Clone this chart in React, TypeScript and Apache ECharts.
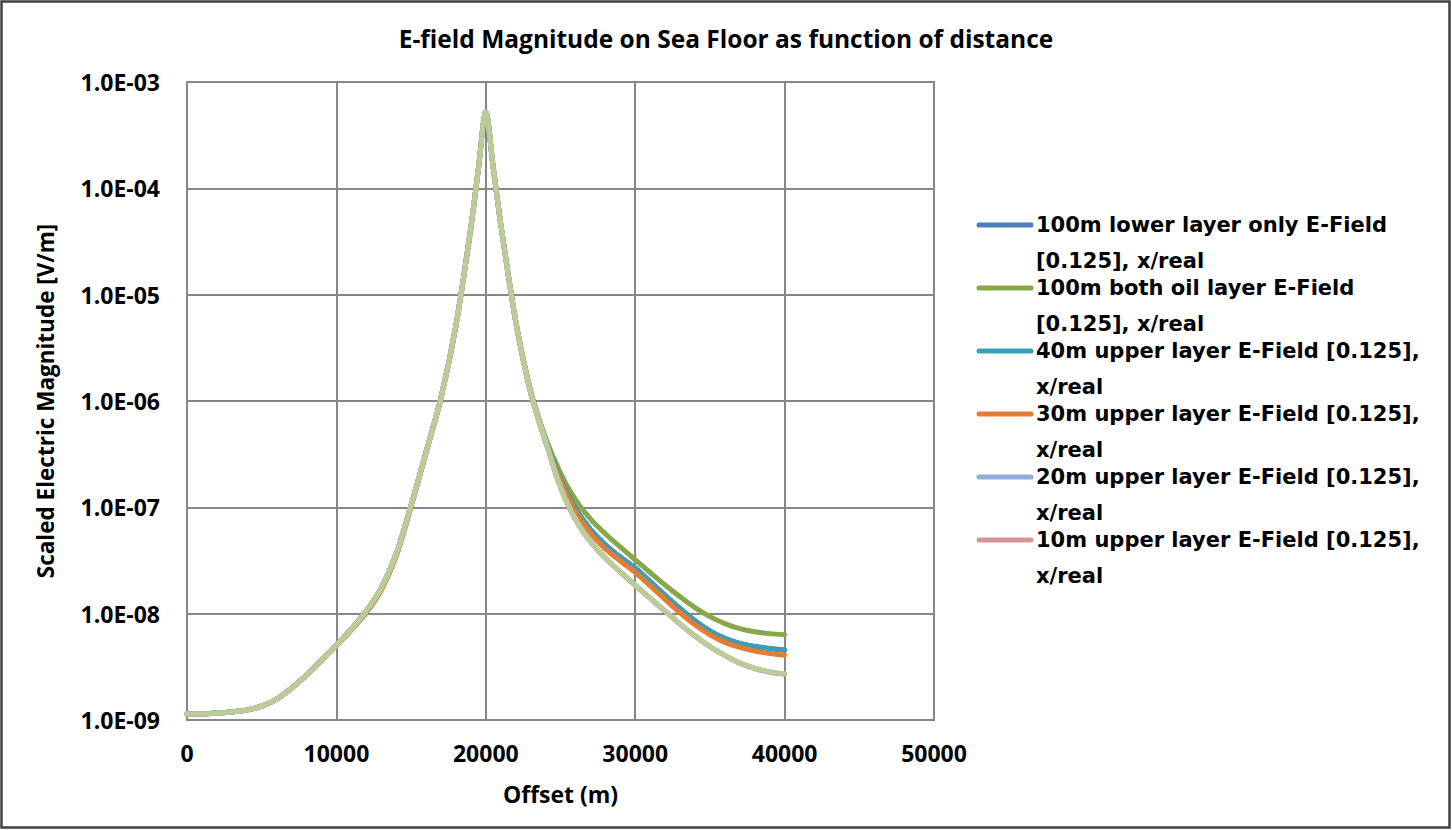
import React, { useEffect, useRef } from "react";
import * as echarts from "echarts";

const chartTitle = "E-field Magnitude on Sea Floor as function of distance";
const xAxisTitle = "Offset (m)";
const yAxisTitle = "Scaled Electric Magnitude [V/m]";
const xTicks = [0, 10000, 20000, 30000, 40000, 50000];

const offsets = [
  0, 1000, 2000, 3000, 4000, 5000, 6000, 7000, 8000, 9000, 10000, 11000, 12000,
  13000, 14000, 15000, 16000, 17000, 18000, 19000, 19500, 20000, 20500, 21000,
  22000, 23000, 24000, 25000, 26000, 27000, 28000, 29000, 30000, 31000, 32000,
  33000, 34000, 35000, 36000, 37000, 38000, 39000, 40000,
];

// values shared by all runs up to 22000 m
const common = [
  1.14e-9, 1.14e-9, 1.16e-9, 1.19e-9, 1.24e-9, 1.35e-9, 1.57e-9, 2.0e-9, 2.65e-9,
  3.66e-9, 5.07e-9, 7.17e-9, 1.06e-8, 1.74e-8, 3.63e-8, 1.05e-7, 3.31e-7, 1.07e-6,
  5.13e-6, 4.27e-5, 1.51e-4, 5.22e-4, 1.55e-4, 4.62e-5, 5.65e-6,
];

const lowerLayer100 = [
  ...common,
  1.25e-6, 4.4e-7, 1.87e-7, 9.84e-8, 6.21e-8, 4.45e-8, 3.41e-8, 2.69e-8, 2.0e-8,
  1.49e-8, 1.12e-8, 8.57e-9, 6.89e-9, 5.86e-9, 5.26e-9, 4.91e-9, 4.7e-9, 4.55e-9,
];
const bothOil100 = [
  ...common,
  1.22e-6, 4.49e-7, 2.1e-7, 1.18e-7, 7.8e-8, 5.65e-8, 4.24e-8, 3.21e-8, 2.44e-8,
  1.86e-8, 1.44e-8, 1.14e-8, 9.38e-9, 8.07e-9, 7.24e-9, 6.76e-9, 6.49e-9, 6.34e-9,
];
const upper40 = [
  ...common,
  1.21e-6, 4.3e-7, 1.87e-7, 9.84e-8, 6.21e-8, 4.45e-8, 3.41e-8, 2.69e-8, 2.0e-8,
  1.49e-8, 1.12e-8, 8.57e-9, 6.89e-9, 5.86e-9, 5.26e-9, 4.91e-9, 4.7e-9, 4.55e-9,
];
const upper30 = [
  1.14e-9, 1.14e-9, 1.16e-9, 1.19e-9, 1.24e-9, 1.35e-9, 1.57e-9, 2.0e-9, 2.63e-9,
  3.6e-9, 4.98e-9, 7.0e-9, 1.02e-8, 1.66e-8, 3.45e-8, 1.01e-7, 3.25e-7, 1.07e-6,
  5.13e-6, 4.27e-5, 1.51e-4, 5.22e-4, 1.55e-4, 4.62e-5, 5.65e-6,
  1.21e-6, 4.11e-7, 1.76e-7, 9.12e-8, 5.71e-8, 4.07e-8, 3.13e-8, 2.45e-8, 1.83e-8,
  1.36e-8, 1.02e-8, 7.85e-9, 6.31e-9, 5.37e-9, 4.81e-9, 4.45e-9, 4.23e-9, 4.08e-9,
];
const upper20 = [
  ...common,
  1.2e-6, 4.19e-7, 1.54e-7, 7.7e-8, 4.75e-8, 3.33e-8, 2.46e-8, 1.85e-8, 1.4e-8,
  1.05e-8, 7.98e-9, 6.16e-9, 4.89e-9, 4.03e-9, 3.42e-9, 3.05e-9, 2.82e-9, 2.7e-9,
];
const upper10 = [
  ...common,
  1.2e-6, 4.2e-7, 1.55e-7, 7.72e-8, 4.77e-8, 3.34e-8, 2.47e-8, 1.85e-8, 1.4e-8,
  1.06e-8, 8.0e-9, 6.18e-9, 4.91e-9, 4.04e-9, 3.43e-9, 3.06e-9, 2.83e-9, 2.71e-9,
];
const topSeries = [
  ...common,
  1.21e-6, 4.21e-7, 1.55e-7, 7.76e-8, 4.79e-8, 3.35e-8, 2.48e-8, 1.86e-8, 1.41e-8,
  1.06e-8, 8.05e-9, 6.21e-9, 4.93e-9, 4.06e-9, 3.45e-9, 3.08e-9, 2.85e-9, 2.72e-9,
];

const seriesNames = [
  "100m lower layer only E-Field [0.125], x/real",
  "100m both oil layer E-Field [0.125], x/real",
  "40m upper layer E-Field [0.125], x/real",
  "30m upper layer E-Field [0.125], x/real",
  "20m upper layer E-Field [0.125], x/real",
  "10m upper layer E-Field [0.125], x/real",
  "Series7",
];
const legendFirstLines = [
  "100m lower layer only E-Field",
  "100m both oil layer E-Field",
  "40m upper layer E-Field [0.125],",
  "30m upper layer E-Field [0.125],",
  "20m upper layer E-Field [0.125],",
  "10m upper layer E-Field [0.125],",
];
const legendSecondLines = [
  "[0.125], x/real",
  "[0.125], x/real",
  "x/real",
  "x/real",
  "x/real",
  "x/real",
];
const seriesValues = [lowerLayer100, bothOil100, upper40, upper30, upper20, upper10, topSeries];
const seriesColors = ["#4a7ebb", "#87a846", "#3d9db6", "#e27d33", "#93aed6", "#d69593", "#b8cd97"];

const FONT = "'Open Sans'";
const LEGEND_FONT = "'DejaVu Sans'";

export default function App() {
  const ref = useRef<HTMLDivElement>(null);
  useEffect(() => {
    if (!ref.current) return;
    const chart = echarts.init(ref.current, null, { renderer: "svg" });
    const gridLeft = 187, gridTop = 82, gridW = 747, gridH = 638;

    const legendGraphics: any[] = [];
    legendFirstLines.forEach((line1, i) => {
      const cy = 225 + 63 * i;
      legendGraphics.push({
        type: "line",
        shape: { x1: 979, y1: cy, x2: 1031, y2: cy },
        style: { stroke: seriesColors[i], lineWidth: 5, lineCap: "round" },
      });
      [line1, legendSecondLines[i]].forEach((t, j) => {
        legendGraphics.push({
          type: "text",
          x: 1036,
          y: cy + 36 * j,
          style: {
            text: t,
            fill: "#000",
            font: `bold 21px ${LEGEND_FONT}`,
            lineHeight: 24,
            verticalAlign: "middle",
          },
        });
      });
    });

    chart.setOption({
      animation: false,
      backgroundColor: "#fff",
      title: {
        text: chartTitle,
        left: "center",
        top: 21,
        textStyle: { fontFamily: FONT, fontWeight: "bold", fontSize: 24.5, color: "#000" },
      },
      grid: { left: gridLeft, top: gridTop, width: gridW, height: gridH, containLabel: false },
      xAxis: {
        type: "value",
        min: xTicks[0],
        max: xTicks[xTicks.length - 1],
        interval: 10000,
        name: xAxisTitle,
        nameLocation: "middle",
        nameGap: 62,
        nameTextStyle: { fontFamily: FONT, fontWeight: "bold", fontSize: 23, color: "#000" },
        axisLine: { show: true, lineStyle: { color: "#878787", width: 2 } },
        axisTick: { show: false },
        axisLabel: {
          margin: 21,
          fontFamily: FONT,
          fontWeight: "bold",
          fontSize: 23,
          color: "#000",
          formatter: (v: number) => String(v),
        },
        splitLine: { show: true, lineStyle: { color: "#878787", width: 2 } },
      },
      yAxis: {
        type: "log",
        logBase: 10,
        min: 1e-9,
        max: 1e-3,
        interval: 1,
        name: yAxisTitle,
        nameLocation: "middle",
        nameRotate: 90,
        nameGap: 130,
        nameTextStyle: { fontFamily: FONT, fontWeight: "bold", fontSize: 22.5, color: "#000" },
        axisLine: { show: true, lineStyle: { color: "#878787", width: 2 } },
        axisTick: { show: false },
        axisLabel: {
          margin: 27,
          fontFamily: FONT,
          fontWeight: "bold",
          fontSize: 23,
          color: "#000",
          formatter: (v: number) => {
            const e = Math.round(Math.log10(v));
            return "1.0E" + (e < 0 ? "-" : "+") + String(Math.abs(e)).padStart(2, "0");
          },
        },
        splitLine: { show: true, lineStyle: { color: "#878787", width: 2 } },
      },
      graphic: [
        {
          type: "rect",
          shape: { x: 1.5, y: 1.5, width: 1448, height: 826 },
          style: { fill: "none", stroke: "#404040", lineWidth: 2.5 },
          silent: true,
          z: 100,
        },
        {
          type: "rect",
          shape: { x: gridLeft + gridW, y: gridTop, width: 0.01, height: gridH },
          style: { fill: "none", stroke: "#878787", lineWidth: 2 },
          silent: true,
        },
        ...legendGraphics,
      ],
      series: seriesNames.map((name, k) => ({
        name,
        type: "line",
        data: offsets.map((x, i) => [x, seriesValues[k][i]]),
        showSymbol: false,
        smooth: 0.3,
        lineStyle: { color: seriesColors[k], width: 5, cap: "round", join: "round" },
        itemStyle: { color: seriesColors[k] },
        z: 2 + k,
      })),
    });
    return () => chart.dispose();
  }, []);
  return (
    <div
      ref={ref}
      style={{ position: "absolute", left: 0, top: 0, width: 1452, height: 830 }}
    />
  );
}
